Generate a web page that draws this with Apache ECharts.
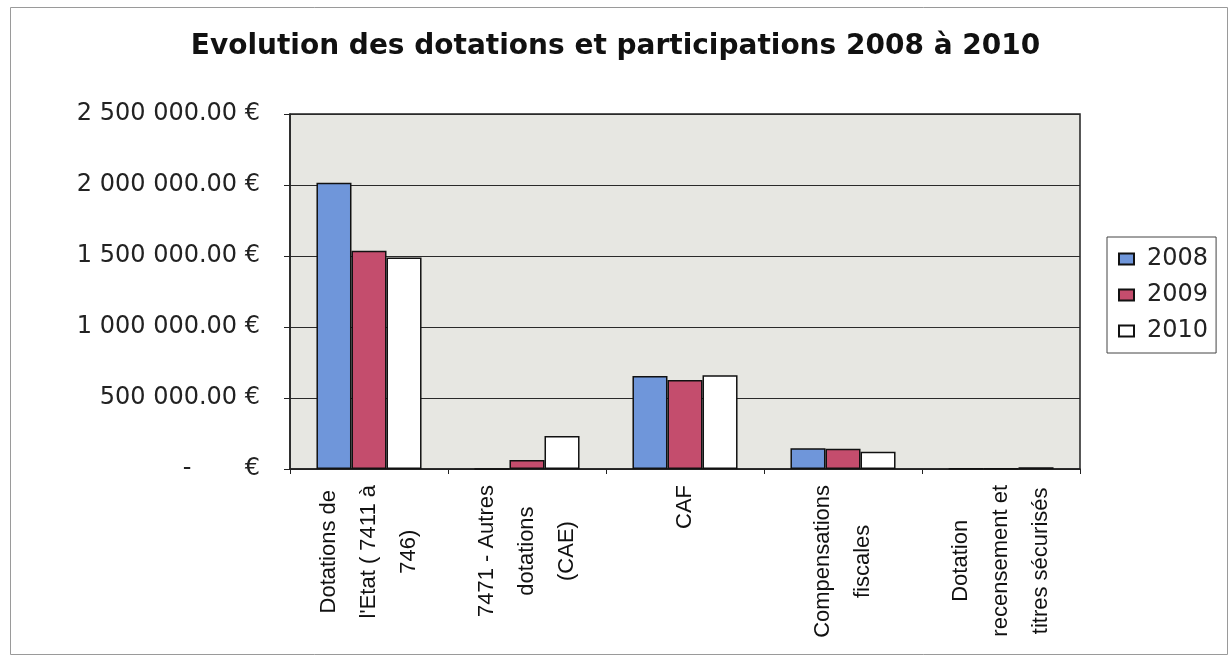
<!DOCTYPE html>
<html><head><meta charset="utf-8">
<script src="https://cdn.jsdelivr.net/npm/echarts@6/dist/echarts.min.js"></script>
<style>html,body{margin:0;padding:0;background:#fff}#c{width:1231px;height:658px}</style>
</head><body><div id="c"></div>
<script>
// ---- data ----
const titleText = 'Evolution des dotations et participations 2008 à 2010';
const categories = [
  "Dotations de\nl'Etat ( 7411 à\n746)",
  "7471 - Autres\ndotations\n(CAE)",
  "CAF",
  "Compensations\nfiscales",
  "Dotation\nrecensement et\ntitres sécurisés"
];
const years = ['2008', '2009', '2010'];
const values2008 = [2015000, 0, 655000, 146000, 3000];
const values2009 = [1537000, 63000, 627000, 143000, 3000];
const values2010 = [1490000, 232000, 660000, 122000, 12000];
const yMin = 0, yMax = 2500000, yStep = 500000;

// ---- chart ----
function fmtEuro(v) {
  if (v === 0) return '-       €';
  const parts = v.toFixed(2).split('.');
  return parts[0].replace(/\B(?=(\d{3})+(?!\d))/g, ' ') + '.' + parts[1] + ' €';
}
const colors = ['#6f96da', '#c44d6d', '#ffffff'];
const seriesValues = [values2008, values2009, values2010];
const chart = echarts.init(document.getElementById('c'));
chart.setOption({
  backgroundColor: '#ffffff',
  animation: false,
  title: {
    text: titleText, left: 'center', top: 28,
    textStyle: { fontFamily: 'DejaVu Sans', fontWeight: 'bold', fontSize: 28, color: '#111' }
  },
  graphic: [{
    type: 'rect', left: 8, top: 5, silent: true,
    shape: { width: 1217, height: 647 },
    style: { fill: 'none', stroke: '#9a9a9a', lineWidth: 1 }
  }],
  legend: {
    orient: 'vertical', left: 1107, top: 237,
    data: years, icon: 'rect', itemWidth: 15, itemHeight: 11, itemGap: 12,
    borderColor: '#444', borderWidth: 1, padding: [10, 8, 10, 11],
    textStyle: { fontFamily: 'DejaVu Sans', fontSize: 24, color: '#222', padding: [0, 0, 0, 8] }
  },
  grid: {
    left: 290, right: 151, top: 114, bottom: 189, show: true,
    backgroundColor: '#e7e7e2', borderColor: '#222', borderWidth: 1.5
  },
  xAxis: {
    type: 'category', data: categories,
    axisLine: { lineStyle: { color: '#222', width: 1.5 } },
    axisTick: { show: true, length: 5, lineStyle: { color: '#222' } },
    axisLabel: {
      rotate: 90, margin: 16, interval: 0,
      formatter: v => v.split('\n').map(s => '{c|' + s + '}').join('\n'),
      rich: { c: { align: 'center', fontFamily: 'Liberation Sans', fontSize: 22, lineHeight: 40, color: '#111' } }
    }
  },
  yAxis: {
    type: 'value', min: yMin, max: yMax, interval: yStep,
    axisLine: { show: true, lineStyle: { color: '#222', width: 1.5 } },
    axisTick: { show: true, length: 6, lineStyle: { color: '#222' } },
    splitLine: { lineStyle: { color: '#2a2a2a', width: 1.2 } },
    axisLabel: { margin: 30, formatter: fmtEuro, fontFamily: 'DejaVu Sans', fontSize: 24, color: '#222' }
  },
  series: years.map((y, i) => ({
    name: y, type: 'bar', data: seriesValues[i],
    barGap: '0%', barCategoryGap: '33.5%',
    itemStyle: { color: colors[i], borderColor: '#111', borderWidth: 1.5 }
  }))
});
</script></body></html>
